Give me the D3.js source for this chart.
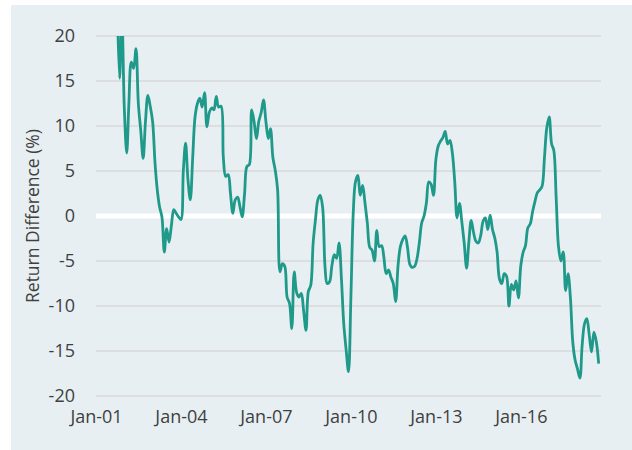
<!DOCTYPE html>
<html>
<head>
<meta charset="utf-8">
<script src="https://cdn.jsdelivr.net/npm/d3@7"></script>
<style>
  body { margin: 0; background: #ffffff; }
  svg { display: block; font-family: "Open Sans", sans-serif; }
</style>
</head>
<body>
<svg id="chart"></svg>
<script>
// first month of the series, then one value a month
const firstMonth = new Date(2001, 9, 1);
const returnDiff = [
  24, 15.3, 22, 12, 7.0, 12.5, 17.1, 16.4, 18.6, 12.5, 9.5, 6.4,
  10.5, 13.4, 12.2, 10.5, 5.9, 3.0, 1.0, -0.1, -4.0, -1.4, -2.9, -1.0,
  0.7, 0.3, -0.1, -0.4, 5.0, 8.1, 4.0, 1.8, 6.5, 11.0, 12.5, 13.1,
  12.1, 13.7, 9.9, 11.5, 12.0, 11.8, 13.3, 12.1, 12.2, 6.5, 4.4, 4.6,
  2.5, 0.3, 1.8, 2.1, 1.0, -0.1, 2.5, 5.5, 5.7, 11.8, 10.5, 8.6,
  10.5, 11.5, 12.9, 10.5, 8.6, 9.7, 6.5, 5.1, 2.9, -6.2, -5.3, -5.6,
  -9.0, -9.7, -12.5, -6.2, -8.5, -9.0, -8.6, -10.5, -12.7, -8.4, -7.7, -3.0,
  -0.4, 1.8, 2.3, 1.0, -5.6, -7.5, -7.3, -5.5, -4.3, -4.7, -3.0, -7.0,
  -12.0, -14.9, -17.3, -9.0, 0.5, 3.8, 4.5, 2.3, 3.4, 1.5, -0.8, -3.5,
  -3.8, -5.0, -1.6, -3.4, -3.3, -4.5, -6.4, -6.0, -6.8, -7.5, -9.5, -5.5,
  -3.4, -2.6, -2.2, -3.5, -5.4, -5.7, -5.6, -4.8, -3.0, -0.8, 0.0, 1.5,
  3.8, 3.5, 2.3, 6.3, 7.8, 8.3, 8.7, 9.4, 8.0, 8.4, 7.0, 3.8,
  -0.2, 1.4, -0.6, -3.0, -5.8, -3.0, -0.5, -1.8, -2.8, -3.0, -2.2, -0.6,
  -0.2, -1.5, 0.1, -1.5, -2.5, -4.0, -7.0, -7.5, -6.4, -6.7, -10.0, -7.6,
  -8.2, -7.2, -9.1, -5.5, -4.0, -3.3, -1.3, -0.9, 0.5, 1.6, 2.6, 2.9,
  3.3, 6.5, 9.8, 11.0, 8.0, 7.3, 2.0, -3.4, -5.0, -4.0, -8.3, -6.4,
  -9.0, -14.0, -16.0, -17.0, -18.0, -14.5, -12.0, -11.4, -13.2, -15.1, -12.9, -14.0,
  -16.4
];
const tickYears = [2001, 2004, 2007, 2010, 2013, 2016];
const tickLabels = ["Jan-01", "Jan-04", "Jan-07", "Jan-10", "Jan-13", "Jan-16"];
const yTicks = [-20, -15, -10, -5, 0, 5, 10, 15, 20];
const yTitle = "Return Difference (%)";

const width = 632, height = 450;
const margin = { top: 36, right: 31, bottom: 54, left: 96 };

const svg = d3.select("#chart").attr("width", width).attr("height", height);

// panel background
svg.append("rect")
  .attr("x", 11).attr("y", 5)
  .attr("width", width - 11).attr("height", height - 5)
  .attr("fill", "#e7eff2");

const data = returnDiff.map((v, i) => ({ date: d3.timeMonth.offset(firstMonth, i), value: v }));

const x = d3.scaleTime()
  .domain([new Date(2001, 0, 1), new Date(2018, 9, 31)])
  .range([margin.left, width - margin.right]);

const y = d3.scaleLinear()
  .domain([-20, 20])
  .range([height - margin.bottom, margin.top]);

// gridlines
svg.append("g")
  .selectAll("line")
  .data(yTicks.filter(d => d !== 0))
  .join("line")
  .attr("x1", margin.left).attr("x2", width - margin.right)
  .attr("y1", d => y(d)).attr("y2", d => y(d))
  .attr("stroke", "#d9d9d9")
  .attr("stroke-width", 1.5);

// zero line
svg.append("line")
  .attr("x1", margin.left).attr("x2", width - margin.right)
  .attr("y1", y(0)).attr("y2", y(0))
  .attr("stroke", "#ffffff")
  .attr("stroke-width", 5);

// y tick labels (plain hyphen like the original)
const yAxis = svg.append("g")
  .attr("transform", `translate(${margin.left - 21},0)`)
  .call(d3.axisLeft(y).tickValues(yTicks).tickFormat(d => String(d)).tickSize(0).tickPadding(0));
yAxis.select(".domain").remove();
yAxis.selectAll("text")
  .attr("font-size", 18)
  .attr("font-family", "Open Sans, sans-serif")
  .attr("fill", "#3f3f3f");

// x tick labels
const xAxis = svg.append("g")
  .attr("transform", `translate(0,${height - margin.bottom})`)
  .call(d3.axisBottom(x)
    .tickValues(tickYears.map(yr => new Date(yr, 0, 1)))
    .tickFormat((d, i) => tickLabels[i])
    .tickSize(0).tickPadding(14));
xAxis.select(".domain").remove();
xAxis.selectAll("text")
  .attr("font-size", 18)
  .attr("font-family", "Open Sans, sans-serif")
  .attr("fill", "#3f3f3f");

// y title
svg.append("text")
  .attr("transform", `translate(33,${y(0)}) rotate(-90)`)
  .attr("text-anchor", "middle")
  .attr("dy", "0.35em")
  .attr("font-size", 17.5)
  .attr("fill", "#3f3f3f")
  .text(yTitle);

// clip at the plot area
svg.append("clipPath").attr("id", "plotClip")
  .append("rect")
  .attr("x", margin.left).attr("y", margin.top)
  .attr("width", width - margin.left - margin.right)
  .attr("height", height - margin.top - margin.bottom);

const line = d3.line()
  .x(d => x(d.date))
  .y(d => y(d.value))
  .curve(d3.curveCatmullRom.alpha(0.5));

svg.append("path")
  .datum(data)
  .attr("clip-path", "url(#plotClip)")
  .attr("fill", "none")
  .attr("stroke", "#1f998a")
  .attr("stroke-width", 2.8)
  .attr("stroke-linejoin", "round")
  .attr("d", line);
</script>
</body>
</html>
